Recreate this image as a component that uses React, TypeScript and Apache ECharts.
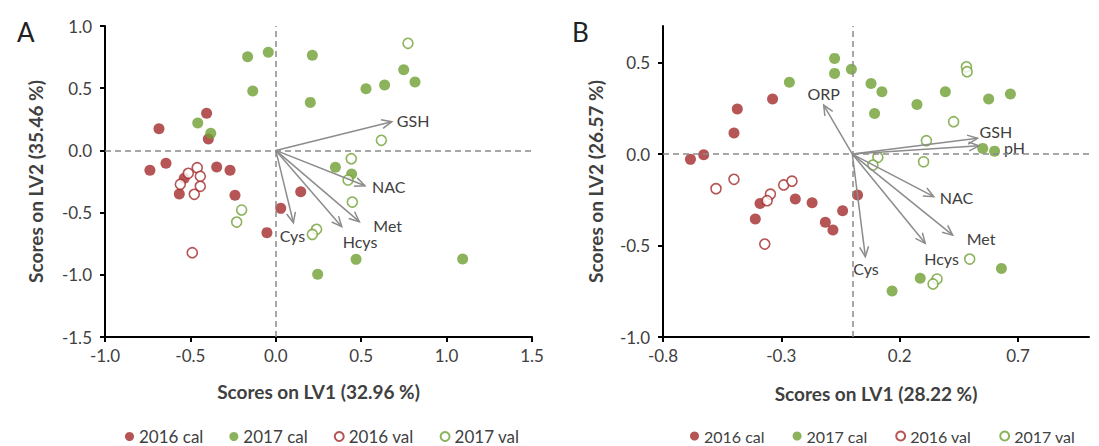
import React, { useEffect, useRef } from "react";
import * as echarts from "echarts";

// ---------- data ----------
const seriesNames = ["2016 cal", "2017 cal", "2016 val", "2017 val"];

// Panel A
const A_2016cal = [
  [-0.405, 0.298], [-0.684, 0.174], [-0.395, 0.092], [-0.643, -0.104], [-0.737, -0.16],
  [-0.346, -0.133], [-0.268, -0.16], [-0.536, -0.224], [-0.565, -0.35], [-0.239, -0.361],
  [0.029, -0.466], [-0.052, -0.661], [0.146, -0.332],
];
const A_2017cal = [
  [-0.457, 0.22], [-0.381, 0.137], [-0.165, 0.753], [-0.044, 0.789], [0.214, 0.764],
  [-0.135, 0.477], [0.202, 0.386], [0.528, 0.496], [0.637, 0.526], [0.749, 0.649],
  [0.815, 0.55], [0.349, -0.136], [0.444, -0.19], [0.47, -0.876], [1.094, -0.873], [0.245, -0.996],
];
const A_2016val = [
  [-0.46, -0.139], [-0.512, -0.184], [-0.442, -0.208], [-0.559, -0.273], [-0.442, -0.289],
  [-0.477, -0.353], [-0.489, -0.822],
];
const A_2017val = [
  [0.774, 0.861], [0.618, 0.081], [0.442, -0.067], [0.423, -0.238], [0.448, -0.415],
  [0.239, -0.634], [0.214, -0.675], [-0.2, -0.479], [-0.229, -0.576],
];
const A_loadings = [
  [0.679, 0.231, "GSH"],
  [0.522, -0.284, "NAC"],
  [0.489, -0.573, "Met"],
  [0.386, -0.613, "Hcys"],
  [0.103, -0.581, "Cys"],
];
const A_xTicks = [-1.0, -0.5, 0.0, 0.5, 1.0, 1.5];
const A_yTicks = [-1.5, -1.0, -0.5, 0.0, 0.5, 1.0];

// Panel B
const B_2016cal = [
  [-0.337, 0.301], [-0.486, 0.246], [-0.5, 0.115], [-0.628, -0.004], [-0.684, -0.029],
  [-0.241, -0.246], [-0.17, -0.266], [-0.39, -0.27], [-0.41, -0.355], [-0.041, -0.31],
  [-0.114, -0.373], [-0.082, -0.415], [0.022, -0.224],
];
const B_2017cal = [
  [-0.075, 0.523], [-0.075, 0.441], [-0.004, 0.464], [-0.266, 0.392], [0.079, 0.386],
  [0.125, 0.341], [0.094, 0.222], [0.273, 0.271], [0.393, 0.341], [0.576, 0.301],
  [0.668, 0.328], [0.551, 0.031], [0.601, 0.016], [0.63, -0.625], [0.287, -0.679], [0.168, -0.749],
];
const B_2016val = [
  [-0.576, -0.189], [-0.5, -0.138], [-0.346, -0.219], [-0.36, -0.255], [-0.29, -0.169],
  [-0.255, -0.148], [-0.37, -0.492],
];
const B_2017val = [
  [0.482, 0.477], [0.485, 0.45], [0.428, 0.177], [0.313, 0.073], [0.301, -0.042],
  [0.108, -0.018], [0.087, -0.06], [0.496, -0.574], [0.358, -0.683], [0.341, -0.71],
];
const B_loadings = [
  [-0.121, 0.268, "ORP"],
  [0.529, 0.086, "GSH"],
  [0.535, 0.045, "pH"],
  [0.344, -0.233, "NAC"],
  [0.424, -0.443, "Met"],
  [0.308, -0.488, "Hcys"],
  [0.055, -0.561, "Cys"],
];
const B_xTicks = [-0.8, -0.3, 0.2, 0.7];
const B_yTicks = [-1.0, -0.5, 0.0, 0.5];

// ---------- styling ----------
const RED = "#A32B2B";
const GREEN = "#6FA033";
const TEXT = "#404040";
const ARROW = "#8c8c8c";
const FONT = "Lato, 'Open Sans', sans-serif";

// label placement relative to arrow tip: [dx, dy, align]
const A_labelPos: Record<string, [number, number, string]> = {
  GSH: [5, -1, "left"],
  NAC: [7, 1, "left"],
  Met: [14, 4, "left"],
  Hcys: [1, 15, "left"],
  Cys: [-1, 13, "center"],
};
const B_labelPos: Record<string, [number, number, string]> = {
  ORP: [0, -12, "center"],
  GSH: [2, -7, "left"],
  pH: [25, 2, "left"],
  NAC: [6, 1, "left"],
  Met: [14, 3, "left"],
  Hcys: [-1, 15, "left"],
  Cys: [-12, 12, "left"],
};

function scatter(name: string, data: number[][], idx: number, filled: boolean, color: string) {
  return {
    type: "scatter",
    name,
    xAxisIndex: idx,
    yAxisIndex: idx,
    data,
    z: 3,
    symbol: "circle",
    symbolSize: filled ? 11 : 10,
    itemStyle: filled
      ? { color, borderWidth: 0 }
      : { color: "#ffffff", borderColor: color, borderWidth: 1.6 },
    emphasis: { disabled: true },
  };
}

function arrows(data: any[], idx: number, labelPos: Record<string, [number, number, string]>) {
  return {
    type: "custom",
    name: "loadings" + idx,
    xAxisIndex: idx,
    yAxisIndex: idx,
    z: 4,
    data,
    encode: { x: 0, y: 1 },
    renderItem: (params: any, api: any) => {
      const o = api.coord([0, 0]);
      const t = api.coord([api.value(0), api.value(1)]);
      const name = data[params.dataIndex][2];
      const ang = Math.atan2(t[1] - o[1], t[0] - o[0]);
      const L = 11;
      const a = 0.42;
      const p1 = [t[0] - L * Math.cos(ang - a), t[1] - L * Math.sin(ang - a)];
      const p2 = [t[0] - L * Math.cos(ang + a), t[1] - L * Math.sin(ang + a)];
      const lp = labelPos[name] || [5, 0, "left"];
      return {
        type: "group",
        children: [
          { type: "line", shape: { x1: o[0], y1: o[1], x2: t[0], y2: t[1] }, style: { stroke: ARROW, lineWidth: 1.5 } },
          { type: "polyline", shape: { points: [p1, t, p2] }, style: { stroke: ARROW, fill: null, lineWidth: 1.5 } },
          {
            type: "text",
            x: t[0] + lp[0],
            y: t[1] + lp[1],
            style: {
              text: name,
              fill: TEXT,
              font: `16px ${FONT}`,
              align: lp[2],
              verticalAlign: "middle",
            },
          },
        ],
      };
    },
  };
}

function zeroLines(idx: number) {
  return {
    type: "line",
    name: "zero" + idx,
    xAxisIndex: idx,
    yAxisIndex: idx,
    data: [],
    z: 1,
    markLine: {
      silent: true,
      symbol: ["none", "none"],
      label: { show: false },
      lineStyle: { type: [6, 4], color: "#8a8a8a", width: 1.5 },
      emphasis: { disabled: true },
      data: [{ xAxis: 0 }, { yAxis: 0 }],
    },
  };
}

const fmt = (v: number) => v.toFixed(1);

function xAxis(idx: number, min: number, max: number, ticks: number[], name: string, gap: number) {
  return {
    type: "value",
    gridIndex: idx,
    min,
    max,
    name,
    nameLocation: "middle",
    nameGap: gap,
    nameTextStyle: { fontFamily: FONT, fontSize: 19, fontWeight: "bold", color: TEXT },
    axisLine: { onZero: false, lineStyle: { color: "#000", width: 2 } },
    axisTick: { show: true, inside: false, length: 5, customValues: ticks, lineStyle: { color: "#000", width: 2 } },
    axisLabel: { customValues: ticks, formatter: fmt, margin: 10, fontFamily: FONT, fontSize: 17, color: TEXT },
    splitLine: { show: false },
  };
}

function yAxis(idx: number, min: number, max: number, ticks: number[], name: string, gap: number) {
  return {
    type: "value",
    gridIndex: idx,
    min,
    max,
    name,
    nameLocation: "middle",
    nameRotate: 90,
    nameGap: gap,
    nameTextStyle: { fontFamily: FONT, fontSize: 19, fontWeight: "bold", color: TEXT },
    axisLine: { onZero: false, lineStyle: { color: "#000", width: 2 } },
    axisTick: { show: true, inside: false, length: 5, customValues: ticks, lineStyle: { color: "#000", width: 2 } },
    axisLabel: { customValues: ticks, formatter: fmt, margin: 13, fontFamily: FONT, fontSize: 17, color: TEXT },
    splitLine: { show: false },
  };
}

function legend(left: number, top: number, gap: number, size: number) {
  return {
    left,
    top,
    padding: 0,
    width: 420,
    data: seriesNames,
    icon: "circle",
    itemWidth: 9,
    itemHeight: 9,
    itemGap: gap,
    textStyle: { fontFamily: FONT, fontSize: size, color: TEXT },
    selectedMode: false,
  };
}

export default function App() {
  const ref = useRef<HTMLDivElement>(null);
  useEffect(() => {
    if (!ref.current) return;
    const chart = echarts.init(ref.current, null, { renderer: "svg" });
    chart.setOption({
      animation: false,
      backgroundColor: "#ffffff",
      title: [
        { text: "A", left: 12, top: 14, textStyle: { fontFamily: FONT, fontSize: 26, fontWeight: "normal", color: "#222" } },
        { text: "B", left: 567, top: 14, textStyle: { fontFamily: FONT, fontSize: 26, fontWeight: "normal", color: "#222" } },
      ],
      grid: [
        { left: 105, top: 26, width: 427, height: 311, containLabel: false },
        { left: 663, top: 26, width: 426, height: 311, containLabel: false },
      ],
      xAxis: [
        xAxis(0, -1.0, 1.5, A_xTicks, "Scores on LV1 (32.96 %)", 45),
        xAxis(1, -0.8, 1.0, B_xTicks, "Scores on LV1 (28.22 %)", 47),
      ],
      yAxis: [
        yAxis(0, -1.5, 1.0, A_yTicks, "Scores on LV2 (35.46 %)", 60),
        yAxis(1, -1.0, 0.7, B_yTicks, "Scores on LV2 (26.57 %)", 58),
      ],
      legend: [legend(125, 428, 26, 17), legend(690, 428, 28, 16)],
      series: [
        zeroLines(0),
        zeroLines(1),
        scatter("2016 cal", A_2016cal, 0, true, RED),
        scatter("2017 cal", A_2017cal, 0, true, GREEN),
        scatter("2016 val", A_2016val, 0, false, RED),
        scatter("2017 val", A_2017val, 0, false, GREEN),
        scatter("2016 cal", B_2016cal, 1, true, RED),
        scatter("2017 cal", B_2017cal, 1, true, GREEN),
        scatter("2016 val", B_2016val, 1, false, RED),
        scatter("2017 val", B_2017val, 1, false, GREEN),
        arrows(A_loadings, 0, A_labelPos),
        arrows(B_loadings, 1, B_labelPos),
      ],
    });
    return () => chart.dispose();
  }, []);
  return (
    <div
      ref={ref}
      style={{ position: "fixed", left: 0, top: 0, width: 1099, height: 446, background: "#fff" }}
    />
  );
}
